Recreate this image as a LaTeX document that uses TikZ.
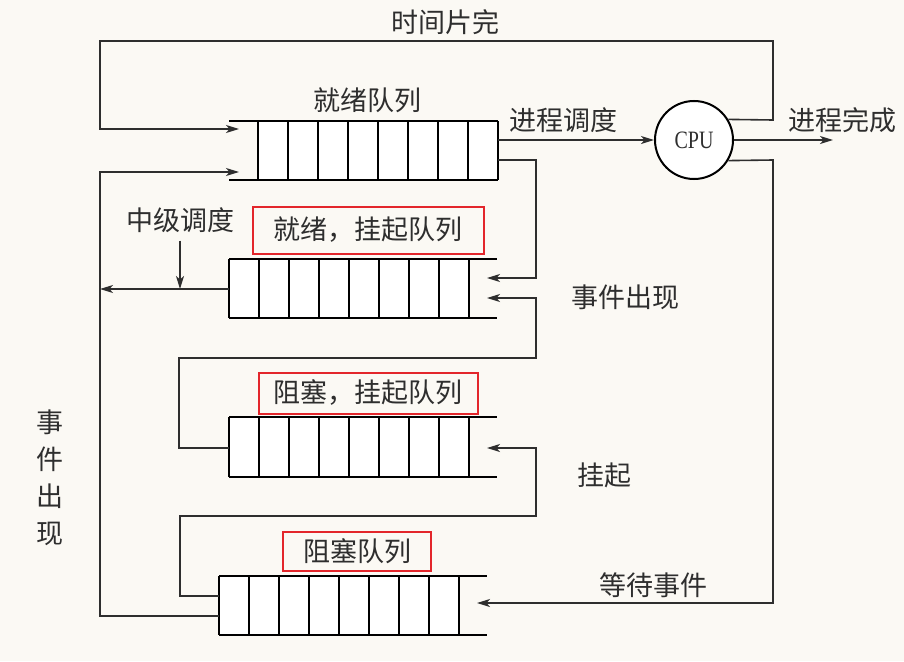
\documentclass[tikz,border=0pt]{standalone}
\usepackage{fontspec}
\setmainfont{Liberation Serif}
\newfontfamily\cjk{Noto Sans CJK SC}
\usetikzlibrary{arrows.meta}
\definecolor{paper}{HTML}{FBF9F4}
\definecolor{ink}{HTML}{2E2E2E}
\definecolor{markred}{HTML}{E3262B}
\tikzset{link/.style = {draw=ink, line width=1.6pt,
                        -{Stealth[length=13pt,width=8pt,inset=3.5pt]}}}
\tikzset{queueline/.style = {draw=black, line width=2.8pt}}
\tikzset{lbl/.style = {text=ink, inner sep=0pt, font=\cjk\fontsize{27}{32}\selectfont}}
\tikzset{redbox/.style = {lbl, draw=markred, line width=2pt}}
% draw one queue: #1 box left, #2 top, #3 bottom, #4 open line left end, #5 open line right end
\newcommand{\queuebox}[5]{%
  \fill[white] (#1,#2) rectangle ({#1+240},#3);
  \draw[queueline] (#4,#2) -- (#5,#2);
  \draw[queueline] (#4,#3) -- (#5,#3);
  \foreach \k in {0,...,8}
    \draw[queueline] ({#1+30*\k},#2) -- ({#1+30*\k},#3);
}
\begin{document}
\begin{tikzpicture}[x=1pt,y=-1pt]
    \fill[paper] (0,0) rectangle (904,661);
    \useasboundingbox (0,0) rectangle (904,661);
    % queues
    \queuebox{258}{121}{180}{229}{498}
    \queuebox{229}{259}{318}{229}{497}
    \queuebox{229}{417}{477}{229}{497}
    \queuebox{219}{576}{635}{219}{487}
    % ports of the queues
    \coordinate (rdyinA) at (239,129);
    \coordinate (rdyinB) at (239,172);
    \coordinate (rdyout) at (498,140);
    \coordinate (rdysusp) at (498,160);
    \coordinate (rsinA) at (487,278);
    \coordinate (rsinB) at (487,298);
    \coordinate (rsout) at (229,289);
    \coordinate (bsin) at (487,448);
    \coordinate (bsout) at (229,448);
    \coordinate (blkin) at (477,603);
    \coordinate (blkoutA) at (219,596);
    \coordinate (blkoutB) at (219,616);
    \coordinate (leftbus) at (100,289);
    \coordinate (done) at (833,140);
    % cpu
    \node[circle, draw=black, line width=2pt, fill=white, minimum size=78pt,
          inner sep=0pt, text=ink, font=\fontsize{25}{28}\selectfont] (cpu) at (694,140) {\scalebox{0.8}[1]{CPU}};
    % labels
    \node[lbl] (slice) at (445,22) {时间片完};
    \node[lbl] (rdyname) at (367,100) {就绪队列};
    \node[lbl] (dispatch) at (563,120) {进程调度};
    \node[lbl] (finish) at (842,120) {进程完成};
    \node[lbl] (midsched) at (180,220) {中级调度};
    \node[redbox, minimum width=231pt, minimum height=47pt] (rsname) at (368,230) {就绪，挂起队列};
    \node[lbl] (eventA) at (625,297) {事件出现};
    \node[redbox, minimum width=219pt, minimum height=41pt] (bsname) at (368,393) {阻塞，挂起队列};
    \node[lbl] (suspend) at (604,475) {挂起};
    \node[redbox, minimum width=148pt, minimum height=39pt] (blkname) at (357,551) {阻塞队列};
    \node[lbl] (wait) at (653,585) {等待事件};
    \node[lbl, align=center, text width=27pt, font=\cjk\fontsize{27}{37}\selectfont] (eventB) at (50,478) {事\\件\\出\\现};
    % connectors
    \draw[link] (rdyout) -- (cpu.west);
    \draw[link] (cpu.east) -- (done);
    \draw[link] (cpu.31) -- (773,120) -- (773,41) -- (100,41) -- (100,129) -- (rdyinA);
    \draw[link] (cpu.-31) -- (773,160) -- (773,603) -- (blkin);
    \draw[link] (rdysusp) -- (536,160) -- (536,278) -- (rsinA);
    \draw[link] (bsout) -- (179,448) -- (179,358) -- (536,358) -- (536,298) -- (rsinB);
    \draw[link] (rsout) -- (leftbus);
    \draw[link] (midsched.south) ++(0,8) -- (180,289);
    \draw[link] (blkoutA) -- (180,596) -- (180,516) -- (536,516) -- (536,448) -- (bsin);
    \draw[link] (blkoutB) -- (100,616) -- (100,172) -- (rdyinB);
\end{tikzpicture}
\end{document}
